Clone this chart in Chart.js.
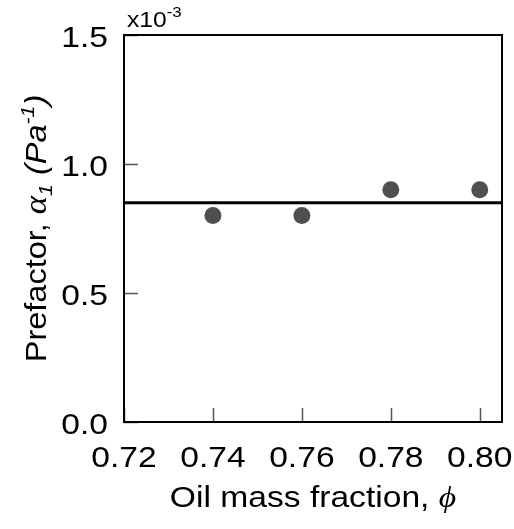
<!DOCTYPE html>
<html>
<head>
<meta charset="utf-8">
<script src="https://cdn.jsdelivr.net/npm/chart.js@4/dist/chart.umd.min.js"></script>
<style>
  html, body { margin: 0; padding: 0; background: #fff; }
  canvas { display: block; }
</style>
</head>
<body>
<canvas id="chart" width="514" height="529"></canvas>
<script>
// data (y in units of 1e-3 Pa^-1)
const oilFraction = [0.74, 0.76, 0.78, 0.80];
const prefactor = [0.80, 0.80, 0.90, 0.90];
const fitX = [0.72, 0.805];
const fitY = [0.85, 0.85];
const xTicks = [0.72, 0.74, 0.76, 0.78, 0.80];
const yTicks = [0.0, 0.5, 1.0, 1.5];

const SANS = '"Liberation Sans", Arial, sans-serif';
const SERIF = '"Liberation Serif", "DejaVu Serif", serif';
const SX = 1.12;   // the original lettering is a bit wider than Arial

// draw a row of text pieces (normal / italic / sub / sup), stretched by SX
function drawRuns(ctx, runs, x, y, align) {
    let total = 0;
    runs.forEach(r => {
        ctx.font = r.font;
        r.w = ctx.measureText(r.text).width * SX;
        total += r.w;
    });
    let cx = x;
    if (align === 'center') cx = x - total / 2;
    if (align === 'right') cx = x - total;
    runs.forEach(r => {
        ctx.save();
        ctx.font = r.font;
        ctx.translate(cx, y + (r.dy || 0));
        ctx.scale(SX, 1);
        ctx.fillText(r.text, 0, 0);
        ctx.restore();
        cx += r.w;
    });
}

const framePlugin = {
    id: 'frame',
    afterDraw(chart) {
        const ctx = chart.ctx;
        const a = chart.chartArea;
        const xs = chart.scales.x, ys = chart.scales.y;
        ctx.save();

        // inward ticks
        ctx.strokeStyle = '#555';
        ctx.lineWidth = 1.5;
        xTicks.forEach(v => {
            const px = Math.round(xs.getPixelForValue(v)) + 0.5;
            ctx.beginPath();
            ctx.moveTo(px, a.bottom);
            ctx.lineTo(px, a.bottom - 14);
            ctx.stroke();
        });
        yTicks.forEach(v => {
            const py = Math.round(ys.getPixelForValue(v)) + 0.5;
            ctx.beginPath();
            ctx.moveTo(a.left, py);
            ctx.lineTo(a.left + 14, py);
            ctx.stroke();
        });

        // frame
        ctx.strokeStyle = '#000';
        ctx.lineWidth = 2;
        ctx.strokeRect(a.left, a.top, a.right - a.left, a.bottom - a.top);

        ctx.fillStyle = '#000';
        ctx.textBaseline = 'alphabetic';

        // tick labels
        const tickFont = '30px ' + SANS;
        xTicks.forEach(v => {
            drawRuns(ctx, [{ text: v.toFixed(2), font: tickFont }],
                xs.getPixelForValue(v), a.bottom + 45, 'center');
        });
        yTicks.forEach(v => {
            drawRuns(ctx, [{ text: v.toFixed(1), font: tickFont }],
                108, ys.getPixelForValue(v) + 12, 'right');
        });

        // multiplier
        drawRuns(ctx, [
            { text: 'x10', font: '22px ' + SANS },
            { text: '-3', font: '15px ' + SANS, dy: -10 }
        ], a.left + 3, 27, 'left');

        // x title
        drawRuns(ctx, [
            { text: 'Oil mass fraction, ', font: '30px ' + SANS },
            { text: '\u03D5', font: 'italic 30px ' + SERIF }
        ], (a.left + a.right) / 2, 507, 'center');

        // y title
        ctx.translate(46, (a.top + a.bottom) / 2);
        ctx.rotate(-Math.PI / 2);
        drawRuns(ctx, [
            { text: 'Prefactor, ', font: '29px ' + SANS },
            { text: '\u03B1', font: 'italic 31px ' + SERIF },
            { text: '1', font: 'italic 19px ' + SANS, dy: 6 },
            { text: ' (Pa', font: 'italic 29px ' + SANS },
            { text: '-1', font: 'italic 19px ' + SANS, dy: -12 },
            { text: ')', font: 'italic 29px ' + SANS }
        ], 0, 0, 'center');

        ctx.restore();
    }
};

new Chart(document.getElementById('chart'), {
    type: 'scatter',
    data: {
        datasets: [
            {
                label: 'fit',
                data: fitX.map((x, i) => ({ x: x, y: fitY[i] })),
                showLine: true,
                borderColor: '#000',
                borderWidth: 3,
                pointRadius: 0
            },
            {
                label: 'data',
                data: oilFraction.map((x, i) => ({ x: x, y: prefactor[i] })),
                backgroundColor: '#4f4f4f',
                borderWidth: 0,
                pointRadius: 8.5
            }
        ]
    },
    options: {
        responsive: false,
        animation: false,
        devicePixelRatio: 1,
        layout: { padding: { left: 0, top: 35, right: 12, bottom: 0 } },
        plugins: {
            legend: { display: false },
            tooltip: { enabled: false }
        },
        scales: {
            x: {
                type: 'linear',
                min: 0.72,
                max: 0.805,
                grid: { display: false, drawTicks: false },
                border: { display: false },
                ticks: { display: false },
                afterFit: s => { s.height = 107; s.paddingLeft = 0; s.paddingRight = 0; }
            },
            y: {
                min: 0,
                max: 1.5,
                grid: { display: false, drawTicks: false },
                border: { display: false },
                ticks: { display: false },
                afterFit: s => { s.width = 124; s.paddingTop = 0; s.paddingBottom = 0; }
            }
        }
    },
    plugins: [framePlugin]
});
</script>
</body>
</html>
